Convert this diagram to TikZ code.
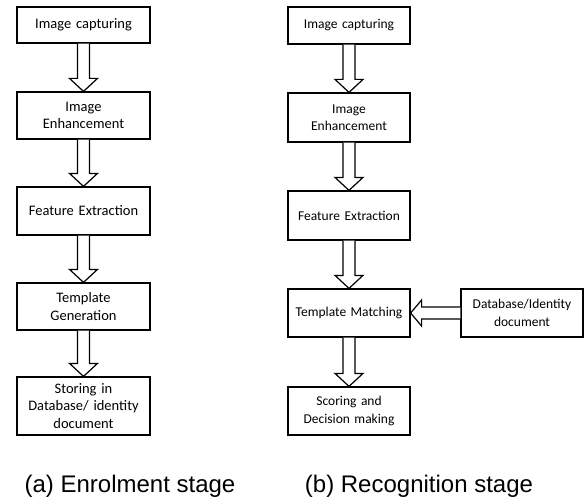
\documentclass[tikz,border=0pt]{standalone}
\usepackage{fontspec}
\setmainfont{Carlito}
\newfontfamily\capfont{Liberation Sans}
\usetikzlibrary{calc}

\newcommand{\hollowdown}[2]{%
  \draw[hollow] ($(#1.south)+(-6,0)$) -- ($(#2.north)+(-6,-13)$) -- ($(#2.north)+(-14,-13)$) -- (#2.north)
    -- ($(#2.north)+(14,-13)$) -- ($(#2.north)+(6,-13)$) -- ($(#1.south)+(6,0)$);}

\begin{document}
\begin{tikzpicture}[x=1pt,y=-1pt,line join=miter,
  box/.style={draw,line width=1.2pt,align=center,inner sep=2pt},
  lbox/.style={box,minimum width=133pt,text width=125pt,font=\fontsize{14.5}{17.5}\selectfont},
  rbox/.style={box,minimum width=122pt,text width=116pt,font=\fontsize{13.5}{17.5}\selectfont},
  hollow/.style={draw,line width=1.2pt,fill=white},
  caption/.style={anchor=base,font=\capfont\fontsize{24}{28}\selectfont}]
\useasboundingbox (0,0) rectangle (586,500);
\node[lbox,minimum height=36pt] (l1) at (83.5,25) {Image capturing};
\node[lbox,minimum height=47pt] (l2) at (83.5,115.5) {Image\\Enhancement};
\node[lbox,minimum height=48pt] (l3) at (83.5,211) {Feature Extraction};
\node[lbox,minimum height=47pt] (l4) at (83.5,306.5) {Template\\Generation};
\node[lbox,minimum height=58pt] (l5) at (83.5,406) {Storing in\\Database/ identity\\document};
\hollowdown{l1}{l2}
\hollowdown{l2}{l3}
\hollowdown{l3}{l4}
\hollowdown{l4}{l5}
\node[rbox,minimum height=37pt] (r1) at (349,25.5) {Image capturing};
\node[rbox,minimum height=49pt] (r2) at (349,117.5) {Image\\Enhancement};
\node[rbox,minimum height=49pt] (r3) at (349,215.5) {Feature Extraction};
\node[rbox,minimum height=48pt] (r4) at (349,313) {Template Matching};
\node[rbox,minimum height=48pt] (r5) at (349,411) {Scoring and\\Decision making};
\node[rbox,minimum height=48pt] (db) at (522,313) {Database/Identity\\document};
\hollowdown{r1}{r2}
\hollowdown{r2}{r3}
\hollowdown{r3}{r4}
\hollowdown{r4}{r5}
\draw[hollow] ($(db.west)+(0,-6)$) -- ($(r4.east)+(11,-6)$) -- ($(r4.east)+(11,-13)$) -- (r4.east)
  -- ($(r4.east)+(11,13)$) -- ($(r4.east)+(11,6)$) -- ($(db.west)+(0,6)$);
\node[caption] (capA) at (130,492) {(a) Enrolment stage};
\node[caption] (capB) at (419,492) {(b) Recognition stage};
\end{tikzpicture}
\end{document}
